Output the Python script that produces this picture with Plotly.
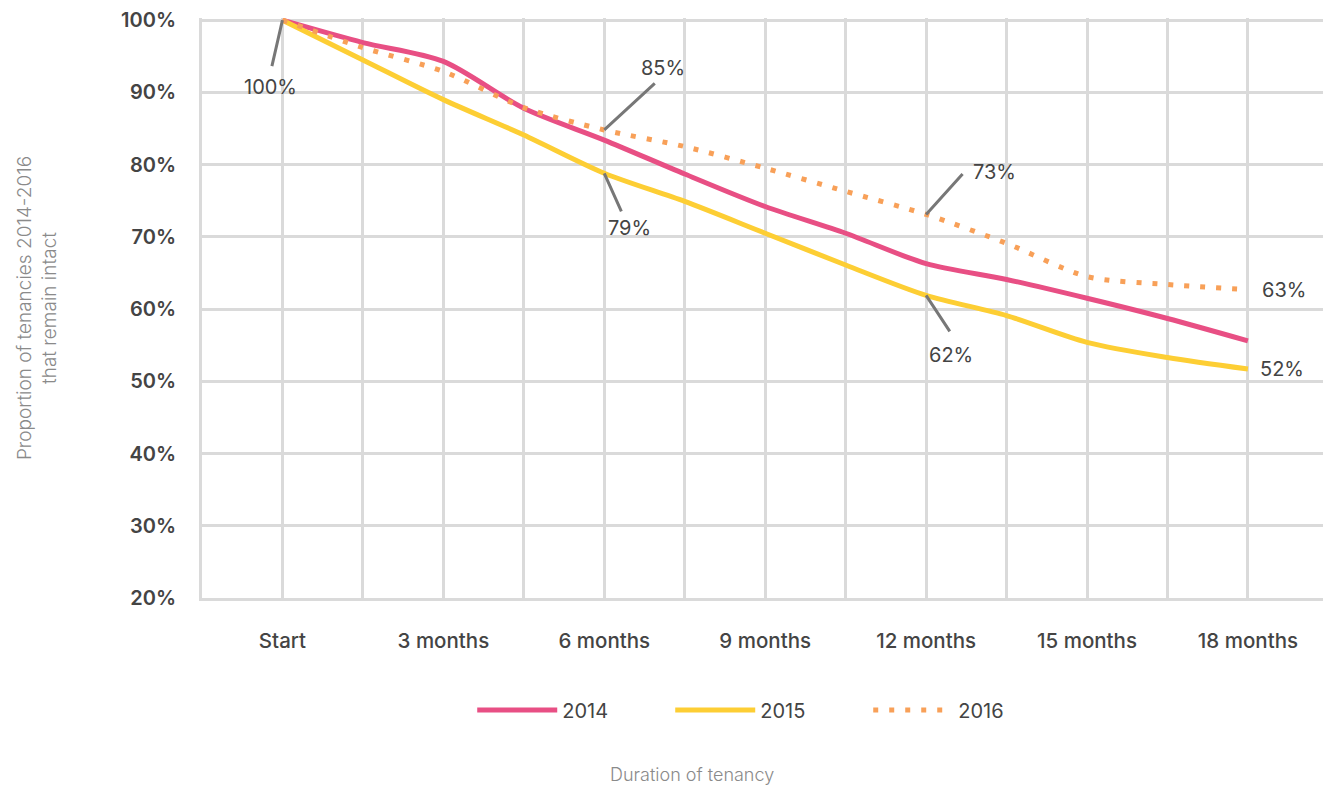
import plotly.graph_objects as go

months = [0, 1.5, 3, 4.5, 6, 7.5, 9, 10.5, 12, 13.5, 15, 16.5, 18]
tick_months = [0, 3, 6, 9, 12, 15, 18]
tick_labels = ["Start", "3 months", "6 months", "9 months", "12 months", "15 months", "18 months"]

y2014 = [100, 96.9, 94.3, 87.8, 83.4, 78.7, 74.2, 70.5, 66.3, 64.1, 61.5, 58.7, 55.6]
y2015 = [100, 94.5, 89.0, 84.1, 78.8, 74.9, 70.5, 66.1, 61.9, 59.1, 55.4, 53.3, 51.7]
y2016 = [100, 96.2, 92.9, 87.9, 84.8, 82.5, 79.5, 76.3, 73.1, 69.1, 64.5, 63.4, 62.7]

y_ticks = [20, 30, 40, 50, 60, 70, 80, 90, 100]
y_tick_labels = [f"{v}%" for v in y_ticks]

# labelled points: (month, value, text, xshift, yshift, xanchor, leader tail offset)
labels = [
    (0, 100, "100%", -12, -67, "center", (-11, 48)),
    (6, 84.8, "85%", 59, 62, "center", (52, -48)),
    (6, 78.8, "79%", 25, -55, "center", (18, 40)),
    (12, 73.1, "73%", 68, 42, "center", (38, -42)),
    (12, 61.9, "62%", 25, -60, "center", (25, 38)),
    (18, 62.7, "63%", 12, 0, "left", None),
    (18, 51.7, "52%", 10, 0, "left", None),
]

PINK = "#E84F84"
YELLOW = "#FDCE34"
ORANGE = "#F8A058"
GRID = "#dadada"
FONT = "Inter"

fig = go.Figure()
fig.add_trace(go.Scatter(x=months, y=y2014, name="2014", mode="lines",
                         line=dict(color=PINK, width=5, shape="spline", smoothing=0.8)))
fig.add_trace(go.Scatter(x=months, y=y2015, name="2015", mode="lines",
                         line=dict(color=YELLOW, width=5, shape="spline", smoothing=0.8)))
fig.add_trace(go.Scatter(x=months, y=y2016, name="2016", mode="lines",
                         line=dict(color=ORANGE, width=5, shape="spline", smoothing=0.8,
                                   dash="5px,11px")))

annotations = []
for mx, my, txt, xs, ys, xa, tail in labels:
    if tail is not None:
        annotations.append(dict(x=mx, y=my, xref="x", yref="y", text=" ",
                                font=dict(size=1), showarrow=True, arrowhead=0,
                                arrowwidth=3, arrowcolor="#777777",
                                ax=tail[0], ay=tail[1], standoff=0, startstandoff=0))
    annotations.append(dict(x=mx, y=my, xref="x", yref="y", text=txt, showarrow=False,
                            xshift=xs, yshift=ys, xanchor=xa, yanchor="middle",
                            font=dict(family=FONT, size=20, color="#444444")))

annotations.append(dict(x=0.437, y=-0.305, xref="paper", yref="paper",
                        text="Duration of tenancy", showarrow=False,
                        xanchor="center", yanchor="middle",
                        font=dict(family=FONT, size=18, color="#8a8a8a", weight=300)))

fig.update_layout(
    width=1323, height=785,
    margin=dict(l=202, r=0, t=18, b=187, autoexpand=False),
    paper_bgcolor="white", plot_bgcolor="white",
    font=dict(family=FONT, color="#444444"),
    showlegend=True,
    legend=dict(orientation="h", x=0.506, xanchor="center", y=-0.193, yanchor="middle",
                font=dict(family=FONT, size=20, color="#444444"),
                itemwidth=80, entrywidth=103),
    annotations=annotations,
    xaxis=dict(range=[-1.5, 19.4], tickvals=tick_months, ticktext=tick_labels,
               showgrid=True, gridcolor=GRID, gridwidth=3,
               minor=dict(dtick=1.5, tick0=0, showgrid=True, gridcolor=GRID, gridwidth=3),
               showline=True, linecolor=GRID, linewidth=3,
               ticks="outside", ticklen=22, tickcolor="rgba(0,0,0,0)",
               tickfont=dict(family=FONT, size=20.5, color="#444444", weight=500),
               zeroline=False, fixedrange=True, automargin=False),
    yaxis=dict(range=[20, 100.3], tickvals=y_ticks, ticktext=y_tick_labels,
               showgrid=True, gridcolor=GRID, gridwidth=3,
               showline=True, linecolor=GRID, linewidth=3,
               ticks="outside", ticklen=19, tickcolor="rgba(0,0,0,0)",
               tickfont=dict(family=FONT, size=20, color="#444444", weight=600),
               title=dict(text="Proportion of tenancies 2014-2016<br>that remain intact",
                          font=dict(family=FONT, size=19, color="#8a8a8a", weight=300),
                          standoff=60),
               zeroline=False, fixedrange=True, automargin=False),
)

fig.write_html("out.html", config={"displayModeBar": False},
               post_script="document.body.style.margin='0';document.body.style.overflow='hidden';")
